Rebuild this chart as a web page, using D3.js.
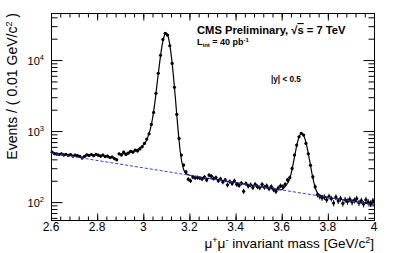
<!DOCTYPE html>
<html lang="en">
<head>
<meta charset="utf-8">
<title>Dimuon mass</title>
<script src="https://d3js.org/d3.v7.min.js"></script>
<style>
body { margin: 0; background: #fff; }
text { font-family: "Liberation Sans", Arial, Helvetica, sans-serif; fill: #000; }
</style>
</head>
<body>
<div id="chart"></div>
<script>
// bins of 0.01 GeV, first bin centred at 2.605
var binStart = 2.605, binWidth = 0.01;
var counts = [
  505, 480, 475, 470, 478, 462, 470, 455, 468, 445,
  458, 450, 440, 418, 440, 462, 455, 468, 450, 472,
  458, 445, 460, 438, 445, 425, 432, 410, 395, 478,
  462, 505, 470, 490, 520, 505, 538, 525, 560, 600,
  671, 771, 916, 1240, 1830, 3400, 6500, 11700, 19500, 23800,
  22500, 15900, 8980, 4130, 1720, 789, 459, 332, 267, 210,
  200, 225, 220, 222, 218, 212, 225, 205, 240, 232,
  215, 222, 200, 212, 192, 205, 175, 195, 183, 200,
  178, 172, 185, 142, 182, 168, 175, 160, 178, 165,
  160, 178, 162, 170, 155, 165, 150, 142, 158, 170,
  165, 178, 205, 222, 298, 459, 635, 832, 930, 878,
  671, 480, 330, 227, 164, 128, 120, 115, 118, 108,
  120, 112, 97, 118, 104, 112, 96, 108, 102, 110,
  100, 106, 112, 98, 105, 94, 108, 100, 96, 104
];

// fitted model (signal + background)
var fitMass = [2.90, 2.93, 2.96, 2.98, 3.00, 3.01, 3.02, 3.03, 3.04, 3.05,
  3.06, 3.07, 3.08, 3.09, 3.10, 3.11, 3.12, 3.13, 3.14, 3.15,
  3.16, 3.17, 3.18, 3.20, 3.30, 3.40, 3.50, 3.60, 3.62, 3.63,
  3.64, 3.65, 3.66, 3.67, 3.68, 3.69, 3.70, 3.71, 3.72, 3.73,
  3.74, 3.75, 3.76, 3.78, 3.80, 3.90, 4.00];
var fitVal = [470, 490, 525, 565, 635, 700, 830, 1050, 1500, 2500,
  4700, 8700, 15000, 21500, 24000, 20000, 12500, 6300, 2700, 1100,
  520, 330, 265, 239, 212, 188, 167, 150, 175, 195,
  245, 350, 520, 730, 890, 920, 790, 590, 400, 265,
  185, 145, 128, 121, 117, 104, 92];

// background component
var bkgMass = [2.6, 4.0];
var bkgVal = [490, 92];

var xTicks = [2.6, 2.8, 3.0, 3.2, 3.4, 3.6, 3.8, 4.0];
var xTickLabels = ["2.6", "2.8", "3", "3.2", "3.4", "3.6", "3.8", "4"];
var yTicks = [100, 1000, 10000];
var yTickExp = ["2", "3", "4"];

var w = 394, h = 253;
var pL = 51, pR = 374, pT = 13, pB = 220;

var svg = d3.select("#chart").append("svg")
  .attr("width", w).attr("height", h);

var x = d3.scaleLinear().domain([2.6, 4.0]).range([pL, pR]);
var y = d3.scaleLog().domain([56, 46000]).range([pB, pT]);

var minorX = d3.range(0, 36).map(function(i) { return 2.6 + i * 0.04; });
var minorY = y.ticks().filter(function(v) {
  return yTicks.indexOf(v) < 0;
});

// AXES
function strip(g) { g.select(".domain").remove(); g.selectAll("text").remove(); }

svg.append("g").attr("transform", "translate(0," + (pB + 0.5) + ")")
  .call(d3.axisBottom(x).tickValues(minorX).tickSize(-4)).call(strip);
svg.append("g").attr("transform", "translate(0," + (pB + 0.5) + ")")
  .call(d3.axisBottom(x).tickValues(xTicks).tickSize(-7)).call(strip);
svg.append("g").attr("transform", "translate(0," + (pT + 0.5) + ")")
  .call(d3.axisTop(x).tickValues(minorX).tickSize(-4)).call(strip);
svg.append("g").attr("transform", "translate(0," + (pT + 0.5) + ")")
  .call(d3.axisTop(x).tickValues(xTicks).tickSize(-7)).call(strip);

svg.append("g").attr("transform", "translate(" + (pL + 0.5) + ",0)")
  .call(d3.axisLeft(y).tickValues(minorY).tickSize(-6)).call(strip);
svg.append("g").attr("transform", "translate(" + (pL + 0.5) + ",0)")
  .call(d3.axisLeft(y).tickValues(yTicks).tickSize(-11)).call(strip);
svg.append("g").attr("transform", "translate(" + (pR + 0.5) + ",0)")
  .call(d3.axisRight(y).tickValues(minorY).tickSize(-6)).call(strip);
svg.append("g").attr("transform", "translate(" + (pR + 0.5) + ",0)")
  .call(d3.axisRight(y).tickValues(yTicks).tickSize(-11)).call(strip);

svg.selectAll(".tick line").attr("stroke", "#000");

svg.append("rect")
  .attr("x", pL + 0.5).attr("y", pT + 0.5)
  .attr("width", pR - pL).attr("height", pB - pT)
  .attr("fill", "none").attr("stroke", "#000").attr("stroke-width", 1);

// tick labels
svg.append("g").selectAll("text").data(xTicks).enter().append("text")
  .attr("x", function(d) { return x(d); })
  .attr("y", 231)
  .attr("text-anchor", "middle")
  .style("font-size", "12px")
  .text(function(d, i) { return xTickLabels[i]; });

var yl = svg.append("g").selectAll("text").data(yTicks).enter().append("text")
  .attr("x", 44)
  .attr("y", function(d) { return y(d) + 5; })
  .attr("text-anchor", "end")
  .style("font-size", "11px");
yl.append("tspan").text("10");
yl.append("tspan").attr("dy", -5).style("font-size", "7.5px")
  .text(function(d, i) { return yTickExp[i]; });

// titles
var xt = svg.append("text").attr("x", 374).attr("y", 248)
  .attr("text-anchor", "end").style("font-size", "13.6px");
xt.append("tspan").text("\u03bc");
xt.append("tspan").attr("dy", -5).style("font-size", "9px").text("+");
xt.append("tspan").attr("dy", 5).text("\u03bc");
xt.append("tspan").attr("dy", -5).style("font-size", "9px").text("-");
xt.append("tspan").attr("dy", 5).text(" invariant mass [GeV/c");
xt.append("tspan").attr("dy", -5).style("font-size", "9px").text("2");
xt.append("tspan").attr("dy", 5).text("]");

var yt = svg.append("text").attr("transform", "translate(17,13) rotate(-90)")
  .attr("text-anchor", "end").style("font-size", "14px");
yt.append("tspan").text("Events / ( 0.01 GeV/c");
yt.append("tspan").attr("dy", -5).style("font-size", "9px").text("2");
yt.append("tspan").attr("dy", 5).text(" )");

// DATA
var bins = counts.map(function(n, i) {
  return { m: binStart + i * binWidth, n: n, e: Math.sqrt(n) };
});

var pts = svg.append("g").attr("stroke", "#000").attr("stroke-width", 1);
pts.selectAll(".ev").data(bins).enter().append("line")
  .attr("x1", function(d) { return x(d.m); })
  .attr("x2", function(d) { return x(d.m); })
  .attr("y1", function(d) { return y(d.n - d.e); })
  .attr("y2", function(d) { return y(d.n + d.e); });
pts.selectAll(".eh").data(bins).enter().append("line")
  .attr("x1", function(d) { return x(d.m - binWidth / 2); })
  .attr("x2", function(d) { return x(d.m + binWidth / 2); })
  .attr("y1", function(d) { return y(d.n); })
  .attr("y2", function(d) { return y(d.n); });
svg.append("g").selectAll("circle").data(bins).enter().append("circle")
  .attr("cx", function(d) { return x(d.m); })
  .attr("cy", function(d) { return y(d.n); })
  .attr("r", 1.6)
  .attr("fill", "#000");

// FIT
var fitLine = d3.line()
  .x(function(d, i) { return x(fitMass[i]); })
  .y(function(d) { return y(d); })
  .curve(d3.curveMonotoneX);
svg.append("path").datum(fitVal)
  .attr("d", fitLine)
  .attr("fill", "none").attr("stroke", "#000").attr("stroke-width", 1.2);

var bkgLine = d3.line()
  .x(function(d, i) { return x(bkgMass[i]); })
  .y(function(d) { return y(d); });
svg.append("path").datum(bkgVal)
  .attr("d", bkgLine)
  .attr("fill", "none").attr("stroke", "#3a3aff").attr("stroke-width", 1)
  .attr("stroke-dasharray", "3,2");

// LABELS
var t1 = svg.append("text").attr("x", 197).attr("y", 34)
  .style("font-size", "11.2px").style("font-weight", "bold");
t1.append("tspan").text("CMS Preliminary, \u221a");
t1.append("tspan").style("text-decoration", "overline").text("s");
t1.append("tspan").text(" = 7 TeV");

var t2 = svg.append("text").attr("x", 197).attr("y", 45)
  .style("font-size", "9px").style("font-weight", "bold");
t2.append("tspan").text("L");
t2.append("tspan").attr("dy", 2).style("font-size", "6px").text("int");
t2.append("tspan").attr("dy", -2).text(" = 40 pb");
t2.append("tspan").attr("dy", -3.5).style("font-size", "6px").text("-1");

svg.append("text").attr("x", 271).attr("y", 82)
  .style("font-size", "8.2px").style("font-weight", "bold")
  .text("|y| < 0.5");
</script>
</body>
</html>
